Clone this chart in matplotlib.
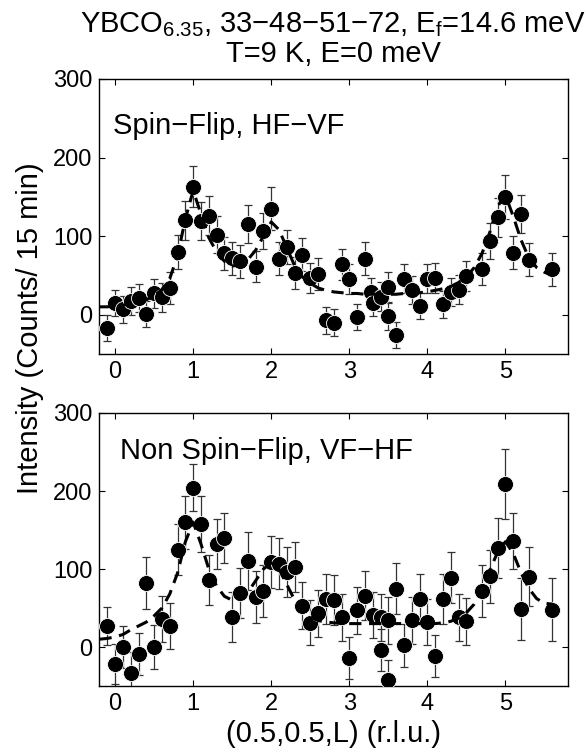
import numpy as np
import matplotlib
matplotlib.use('Agg')
import matplotlib.pyplot as plt

plt.rcParams['font.family'] = ['Liberation Sans', 'DejaVu Sans']
plt.rcParams['mathtext.fontset'] = 'custom'
plt.rcParams['mathtext.rm'] = 'Liberation Sans'

# Spin-flip (HF-VF) scan
top_L = [-0.1, 0.0, 0.1, 0.2, 0.3, 0.4, 0.5, 0.6, 0.7, 0.8,
         0.9, 1.0, 1.1, 1.2, 1.3, 1.4, 1.5, 1.6, 1.7, 1.8,
         1.9, 2.0, 2.1, 2.2, 2.3, 2.4, 2.5, 2.6, 2.7, 2.8,
         2.9, 3.0, 3.1, 3.2, 3.28, 3.3, 3.4, 3.5, 3.5, 3.6,
         3.7, 3.8, 3.9, 4.0, 4.1, 4.2, 4.3, 4.4, 4.5, 4.7,
         4.8, 4.9, 5.0, 5.1, 5.2, 5.3, 5.6]
top_I = [-17, 15, 7, 17, 21, 1, 27, 22, 34, 80,
         120, 163, 119, 126, 102, 78, 72, 68, 115, 61,
         107, 135, 71, 86, 53, 76, 47, 52, -7, -10,
         64, 45, -3, 71, 29, 15, 23, 35, -2, -26,
         46, 31, 11, 46, 47, 13, 29, 32, 49, 58,
         94, 124, 150, 79, 128, 70, 58]
top_err = [17, 17, 17, 18, 18, 17, 19, 18, 20, 22,
           25, 26, 24, 25, 23, 21, 21, 21, 24, 20,
           23, 27, 21, 22, 20, 21, 19, 20, 17, 17,
           20, 19, 17, 21, 18, 17, 18, 19, 17, 17,
           19, 18, 17, 19, 19, 17, 18, 18, 19, 20,
           23, 25, 28, 21, 24, 21, 21]

# Non spin-flip (VF-HF) scan
bot_L = [-0.1, 0.0, 0.1, 0.2, 0.3, 0.4, 0.5, 0.6, 0.7, 0.8,
         0.9, 1.0, 1.1, 1.2, 1.3, 1.4, 1.5, 1.6, 1.7, 1.8,
         1.9, 2.0, 2.1, 2.2, 2.3, 2.4, 2.5, 2.6, 2.7, 2.8,
         2.9, 3.0, 3.1, 3.2, 3.3, 3.4, 3.4, 3.5, 3.5, 3.6,
         3.7, 3.8, 3.9, 4.0, 4.1, 4.2, 4.3, 4.4, 4.5, 4.7,
         4.8, 4.9, 5.0, 5.1, 5.2, 5.3, 5.6]
bot_I = [27, -22, 0, -33, -9, 82, 0, 36, 27, 125,
         160, 204, 158, 86, 132, 140, 38, 69, 110, 64,
         72, 109, 107, 96, 103, 53, 31, 43, 62, 60,
         38, -14, 47, 66, 41, -4, 38, 34, -42, 75,
         2, 34, 62, 32, -12, 62, 89, 38, 33, 72,
         91, 127, 209, 136, 49, 90, 48]
bot_err = [24, 26, 27, 26, 27, 33, 28, 30, 29, 33,
           34, 30, 36, 32, 32, 32, 32, 32, 37, 33,
           33, 33, 33, 32, 32, 30, 29, 30, 32, 32,
           30, 27, 30, 32, 30, 27, 30, 30, 25, 33,
           28, 30, 32, 30, 27, 32, 33, 30, 30, 33,
           34, 38, 45, 36, 40, 38, 40]

# fitted curves (dashed)
fit_L = [-0.2, -0.1, 0.0, 0.1, 0.2, 0.3, 0.4, 0.5, 0.6, 0.7,
         0.8, 0.9, 1.0, 1.1, 1.2, 1.3, 1.4, 1.5, 1.6, 1.7,
         1.8, 1.9, 2.0, 2.1, 2.2, 2.3, 2.4, 2.5, 2.6, 2.7,
         2.8, 2.9, 3.0, 3.1, 3.2, 3.3, 3.4, 3.5, 3.6, 3.7,
         3.8, 3.9, 4.0, 4.1, 4.2, 4.3, 4.4, 4.5, 4.6, 4.7,
         4.8, 4.9, 5.0, 5.1, 5.2, 5.3, 5.4, 5.5, 5.6]
fit_top = [10, 10, 11, 12, 14, 16, 19, 24, 32, 46,
           75, 122, 158, 128, 98, 80, 68, 62, 63, 70,
           82, 100, 118, 108, 85, 62, 48, 40, 34, 31,
           29, 28, 27, 27, 26, 26, 26, 26, 26, 27,
           27, 28, 29, 31, 33, 36, 41, 48, 60, 78,
           105, 138, 152, 125, 95, 72, 60, 54, 50]
fit_bot = [10, 11, 13, 16, 22, 27, 32, 40, 50, 68,
           95, 135, 160, 132, 100, 78, 65, 60, 62, 70,
           85, 100, 108, 100, 80, 60, 46, 38, 34, 32,
           31, 30, 30, 30, 30, 30, 30, 30, 30, 30,
           30, 30, 30, 30, 31, 33, 37, 44, 55, 72,
           98, 122, 135, 120, 95, 75, 62, 56, 55]

panels = [
    (top_L, top_I, top_err, fit_top, 'Spin\u2212Flip, HF\u2212VF', (-0.03, 230)),
    (bot_L, bot_I, bot_err, fit_bot, 'Non Spin\u2212Flip, VF\u2212HF', (0.06, 241)),
]

fig = plt.figure(figsize=(5.87, 7.49), dpi=100)
ax_top = fig.add_axes([0.1695, 0.5274, 0.798, 0.3672])
ax_bot = fig.add_axes([0.1695, 0.0841, 0.798, 0.3645])

for ax, (L, I, err, fit, label, pos) in zip([ax_top, ax_bot], panels):
    ax.errorbar(L, I, yerr=err, fmt='none', ecolor='#333333', elinewidth=0.9,
                capsize=3, capthick=0.9, zorder=2)
    ax.plot(L, I, 'o', color='k', markersize=11.5, markeredgecolor='white',
            markeredgewidth=0.6, zorder=3)
    ax.plot(fit_L, fit, '--', color='k', linewidth=2.2, dashes=(4, 2.5), zorder=4)
    ax.text(pos[0], pos[1], label, fontsize=21, va='baseline', ha='left')
    ax.set_xlim(-0.2, 5.8)
    ax.set_ylim(-50, 300)
    ax.set_xticks([0, 1, 2, 3, 4, 5])
    ax.set_yticks([0, 100, 200, 300])
    ax.tick_params(direction='in', top=True, right=True, length=4, width=0.8,
                   labelsize=17, pad=5)
    for s in ax.spines.values():
        s.set_linewidth(1.0)

fig.text(333 / 587, 1 - 32 / 749,
         r'YBCO$\mathregular{_{6.35}}$, 33\u221248\u221251\u221272, E$\mathregular{_f}$=14.6 meV'
         .replace('\\u2212', '\u2212'),
         ha='center', va='baseline', fontsize=21)
fig.text(333 / 587, 1 - 62 / 749, 'T=9 K, E=0 meV', ha='center', va='baseline', fontsize=21)
fig.text(30 / 587, 1 - 328 / 749, 'Intensity (Counts/ 15 min)', rotation=90,
         ha='center', va='center', fontsize=21)
fig.text(333 / 587, 1 - 742 / 749, '(0.5,0.5,L) (r.l.u.)', ha='center', va='baseline', fontsize=21)

fig.savefig('out.png', dpi=100)
